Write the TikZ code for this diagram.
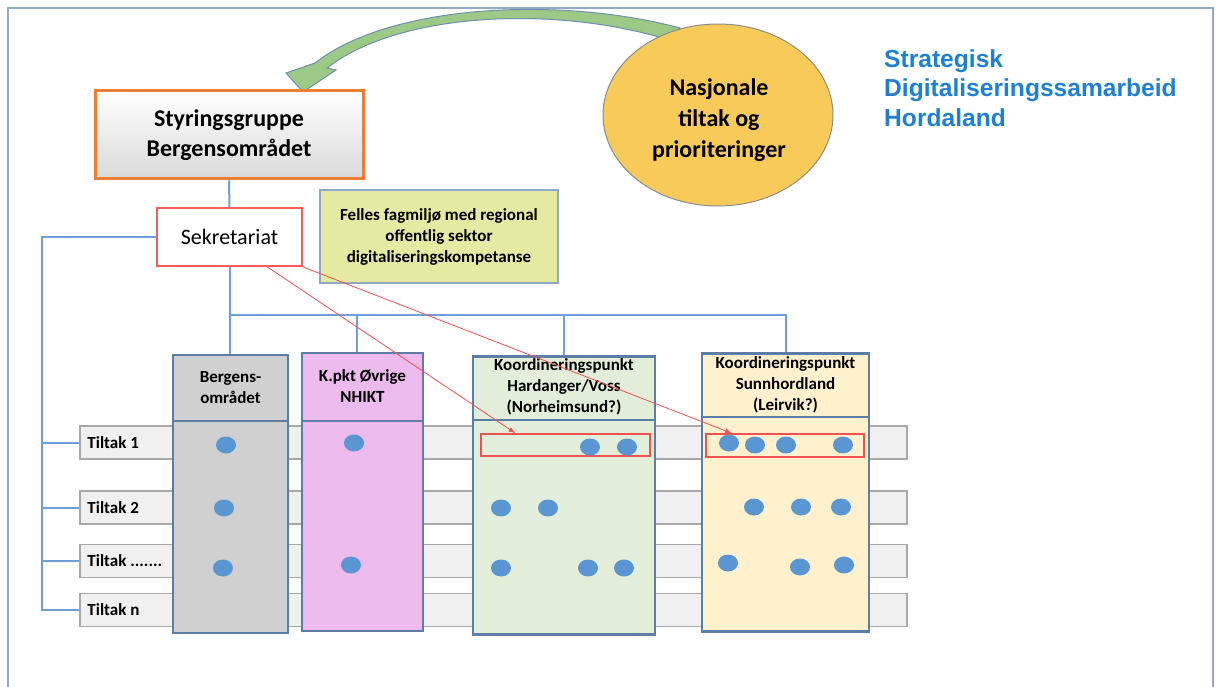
\documentclass[tikz,border=0pt]{standalone}
\usepackage{fontspec}
\setmainfont{Carlito}
\newfontfamily\titlefont{Liberation Sans}
\usetikzlibrary{arrows.meta,shapes.geometric}

\definecolor{frameline}{HTML}{93A9C9}
\definecolor{connblue}{HTML}{6E9FD6}
\definecolor{colline}{HTML}{5C7DA6}
\definecolor{rowfill}{HTML}{F0F0F0}
\definecolor{rowline}{HTML}{A8A8A8}
\definecolor{dotblue}{HTML}{5A96D2}
\definecolor{redline}{HTML}{F0504F}
\definecolor{orangeline}{HTML}{ED7D31}
\definecolor{sekred}{HTML}{FF5B5B}
\definecolor{fellesfill}{HTML}{E5EAA3}
\definecolor{fellesline}{HTML}{8FA8C6}
\definecolor{bergfill}{HTML}{D0D0D0}
\definecolor{kpktfill}{HTML}{ECBAEC}
\definecolor{hardfill}{HTML}{E2EEDA}
\definecolor{sunnfill}{HTML}{FFF0CE}
\definecolor{nasyellow}{HTML}{F8CA5A}
\definecolor{ellline}{HTML}{8C8C8C}
\definecolor{titleblue}{HTML}{1F7FD6}
\definecolor{arrowgreen}{HTML}{9CC985}
\definecolor{arrowline}{HTML}{6F8FAF}

\tikzset{
  conn/.style={draw=connblue, line width=2pt},
  colbox/.style={draw=colline, line width=2.5pt, minimum height=278pt, inner sep=0pt},
  coldiv/.style={draw=colline, line width=2pt},
  rowbox/.style={draw=rowline, fill=rowfill, line width=1.5pt, minimum width=827pt, minimum height=33pt, inner sep=0pt},
  tiltakdot/.style={ellipse, fill=dotblue, minimum width=20pt, minimum height=17pt, inner sep=0pt},
  redmark/.style={draw=redline, line width=1.5pt, inner sep=0pt},
  redarrow/.style={draw=redline, line width=0.8pt, -{Latex[length=7pt,width=5pt]}},
  headtxt/.style={font=\fontsize{17}{21}\selectfont\bfseries, align=center, inner sep=0pt},
  tiltxt/.style={font=\fontsize{17}{20}\selectfont\bfseries, anchor=west, inner sep=0pt},
}

\begin{document}
\begin{tikzpicture}[x=1pt,y=-1pt]
\useasboundingbox (0,0) rectangle (1218,687);
\fill[white] (0,0) rectangle (1218,687);
\draw[frameline, line width=1.2pt] (8,687) -- (8,8) -- (1213,8) -- (1213,687);

% curved arrow from the national box
\filldraw[fill=arrowgreen, draw=arrowline, line width=1pt]
  (680,28) .. controls (560,-4) and (390,4) .. (315,63)
  -- (286,73) -- (303,92) -- (336,70) -- (327,68)
  .. controls (400,11) and (560,5) .. (672,41) -- cycle;

\node[ellipse, draw=ellline, fill=nasyellow, line width=1pt, minimum width=230pt, minimum height=182pt, inner sep=0pt] (nasj) at (718,115) {};
\node[font=\fontsize{24}{31}\selectfont\bfseries, align=center] (nasjtxt) at (719,120) {Nasjonale\\tiltak og\\prioriteringer};

\node[anchor=north west, align=left, inner sep=0pt, text=titleblue,
  font=\titlefont\bfseries\fontsize{24.6}{29.5}\selectfont] (title) at (884,49) {Strategisk\\Digitaliseringssamarbeid\\Hordaland};

% top boxes
\node[draw=orangeline, line width=3pt, top color=white, bottom color=black!15, minimum width=268pt, minimum height=88pt,
  font=\fontsize{24}{30}\selectfont\bfseries, align=center] (styr) at (229,135) {Styringsgruppe\\Bergensområdet};
\node[draw=sekred, fill=white, line width=2pt, minimum width=145pt, minimum height=58pt,
  font=\fontsize{22}{26}\selectfont] (sek) at (229.5,237) {Sekretariat};
\node[draw=fellesline, fill=fellesfill, line width=1.5pt, minimum width=238pt, minimum height=93pt,
  font=\fontsize{17}{21}\selectfont\bfseries, align=center] (felles) at (439,236.5) {Felles fagmiljø med regional\\offentlig sektor\\digitaliseringskompetanse};

% rows
\node[rowbox] (row1) at (493.5,442.5) {};
\node[rowbox] (row2) at (493.5,507.5) {};
\node[rowbox] (row3) at (493.5,561) {};
\node[rowbox] (row4) at (493.5,610) {};
\node[tiltxt] (t1) at ([xshift=8pt]row1.west) {Tiltak 1};
\node[tiltxt] (t2) at ([xshift=8pt]row2.west) {Tiltak 2};
\node[tiltxt] (t3) at ([xshift=8pt]row3.west) {Tiltak .......};
\node[tiltxt] (t4) at ([xshift=8pt]row4.west) {Tiltak n};

% columns
\node[colbox, fill=bergfill, minimum width=115pt] (colA) at (230.5,494) {};
\node[colbox, fill=kpktfill, minimum width=121pt] (colB) at (362.5,492) {};
\node[colbox, fill=hardfill, minimum width=182pt] (colC) at (564,495.5) {};
\node[colbox, fill=sunnfill, minimum width=167pt] (colD) at (785.5,492.5) {};
\draw[coldiv] (colA.west |- 0,421) -- (colA.east |- 0,421);
\draw[coldiv] (colB.west |- 0,421) -- (colB.east |- 0,421);
\draw[coldiv] (colC.west |- 0,420) -- (colC.east |- 0,420);
\draw[coldiv] (colD.west |- 0,417) -- (colD.east |- 0,417);
\node[headtxt] (hA) at ([yshift=-34pt]colA.north) {Bergens-\\området};
\node[headtxt] (hB) at ([yshift=-34pt]colB.north) {K.pkt Øvrige\\NHIKT};
\node[headtxt] (hC) at ([yshift=-32pt]colC.north) {Koordineringspunkt\\Hardanger/Voss\\(Norheimsund?)};
\node[headtxt] (hD) at ([yshift=-33pt]colD.north) {Koordineringspunkt\\Sunnhordland\\(Leirvik?)};

% connectors
\coordinate (bus) at (230,315);
\coordinate (lbus) at (42,237);
\draw[conn] (styr.south) -- (sek.north);
\draw[conn] (sek.south) -- (sek.south |- colA.north);
\draw[conn] (bus) -| (colD.north);
\draw[conn] (bus -| 357,0) -- (357,0 |- colB.north);
\draw[conn] (bus -| colC.north) -- (colC.north);
\draw[conn] (sek.west) -- (lbus) |- (row4.west);
\draw[conn] (lbus |- row1.west) -- (row1.west);
\draw[conn] (lbus |- row2.west) -- (row2.west);
\draw[conn] (lbus |- row3.west) -- (row3.west);

% marked Tiltak 1
\node[redmark, minimum width=169pt, minimum height=22pt] (redA) at (565.5,445) {};
\node[redmark, minimum width=158pt, minimum height=23pt] (redD) at (785,445.5) {};

\foreach \x/\y [count=\i] in {226/445, 224/508, 223/568, 354/443, 351/565,
    590/447, 627/447, 501/508, 548/508, 501/568, 588/568, 624/568,
    729/443, 755/445, 786/445, 843/445, 754/507, 801/507, 841/507, 728/563, 800/567, 844/565}
  \node[tiltakdot] (d\i) at (\x,\y) {};

\draw[redarrow] ([xshift=38pt]sek.south) -- ([xshift=-50pt]redA.north);
\draw[redarrow] (sek.south east) -- ([xshift=-53pt]redD.north);
\end{tikzpicture}
\end{document}
